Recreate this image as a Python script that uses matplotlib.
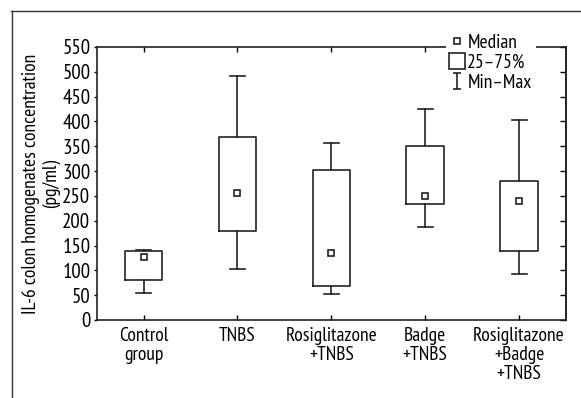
import matplotlib.pyplot as plt
from matplotlib.lines import Line2D
from matplotlib.path import Path

plt.rcParams['font.family'] = ['PT Sans Narrow', 'Roboto Condensed', 'DejaVu Sans']

groups = ["Control\ngroup", "TNBS", "Rosiglitazone\n+TNBS", "Badge\n+TNBS",
          "Rosiglitazone\n+Badge\n+TNBS"]
mins = [55, 103, 52, 187, 92]
q1 = [81, 180, 68, 234, 138]
medians = [127, 255, 135, 250, 239]
q3 = [138, 368, 302, 350, 279]
maxs = [142, 491, 357, 426, 403]

fig = plt.figure(figsize=(5.81, 3.98), dpi=100)
ax = fig.add_axes([0.1664, 0.196, 0.8078, 0.686])

stats = []
for i in range(len(groups)):
    stats.append(dict(whislo=mins[i], q1=q1[i], med=medians[i], q3=q3[i],
                      whishi=maxs[i], fliers=[]))
pos = list(range(1, len(groups) + 1))
lw = 1.2
ax.bxp(stats, positions=pos, widths=0.4, capwidths=0.16, showfliers=False,
       boxprops=dict(color='#222222', linewidth=lw),
       whiskerprops=dict(color='#222222', linewidth=lw),
       capprops=dict(color='#222222', linewidth=lw),
       medianprops=dict(linestyle='none'))
ax.plot(pos, medians, 's', ms=5, mfc='white', mec='#222222', mew=1.2, ls='none',
        zorder=3)

ax.set_xlim(0.5, 5.5)
ax.set_ylim(0, 550)
yt = list(range(0, 551, 50))
ax.set_yticks(yt)
ax.set_xticks(pos)
ax.set_xticklabels(groups, fontsize=14, linespacing=1.08)
ax.tick_params(axis='y', left=True, direction='out', length=2.5,
               labelsize=15, pad=2, width=1)
ax.tick_params(axis='x', top=True, bottom=True, direction='in', length=3.5,
               pad=5, width=1)
rax = ax.secondary_yaxis('right')
rax.set_yticks(yt)
rax.tick_params(direction='in', length=4, width=1, labelright=False)
rax.spines['right'].set_linewidth(1.2)
rax.spines['right'].set_color('#222222')
for s in ax.spines.values():
    s.set_linewidth(1.2)
    s.set_color('#222222')

ax.set_ylabel("IL-6 colon homogenates concentration\n(pg/ml)", fontsize=14,
              linespacing=1.12)
ax.yaxis.set_label_coords(-0.078, 0.5)

# legend
ibar = Path([(-0.5, 1), (0.5, 1), (0, 1), (0, -1), (-0.5, -1), (0.5, -1)],
            [Path.MOVETO, Path.LINETO, Path.MOVETO, Path.LINETO, Path.MOVETO, Path.LINETO])
handles = [
    Line2D([], [], marker='s', ms=5, mfc='white', mec='#222222', mew=1.2, ls='none'),
    Line2D([], [], marker='s', ms=11, mfc='white', mec='#222222', mew=1.2, ls='none'),
    Line2D([], [], marker=ibar, ms=12, mfc='none', mec='#222222', mew=1.2, ls='none'),
]
leg = ax.legend(handles, ["Median", "25\u201375%", "Min\u2013Max"], loc='upper left',
                bbox_to_anchor=(446 / 581, 1 - 30 / 398), bbox_transform=fig.transFigure,
                frameon=True, fontsize=14, handlelength=0.7, handletextpad=0.2,
                labelspacing=0.1, borderpad=0.2, borderaxespad=0)
leg.get_frame().set_facecolor('white')
leg.get_frame().set_edgecolor('none')
leg.get_frame().set_alpha(1)

# outer frame
fig.add_artist(Line2D([11 / 581, 1], [1 - 10.5 / 398] * 2, color='#333333', lw=1,
                      transform=fig.transFigure))
fig.add_artist(Line2D([11.5 / 581] * 2, [0, 1 - 10.5 / 398], color='#333333', lw=1,
                      transform=fig.transFigure))

fig.savefig("out.png", dpi=100)
